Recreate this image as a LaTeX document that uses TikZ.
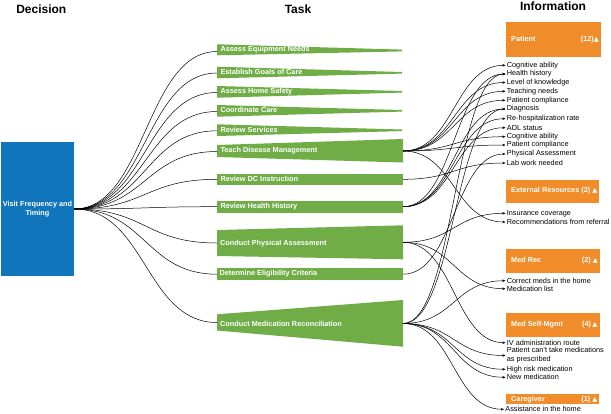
\documentclass[tikz,border=0pt]{standalone}
\usepackage{fontspec}
\setmainfont{Liberation Sans}
\newfontfamily\trifont{DejaVu Sans}
\usetikzlibrary{arrows.meta}
\definecolor{decblue}{HTML}{1075BA}
\definecolor{taskgreen}{HTML}{70AD47}
\definecolor{infoorange}{HTML}{F08C2A}
\tikzset{
  hdr/.style={font=\fontsize{12}{14}\selectfont\bfseries, inner sep=0},
  tasktxt/.style={font=\fontsize{7.3}{8.8}\selectfont\bfseries, text=white, anchor=west, inner sep=0},
  info/.style={font=\fontsize{7.3}{8.8}\selectfont, anchor=west, inner xsep=1.2pt, inner ysep=0, align=left},
  boxtxt/.style={font=\fontsize{7.3}{8.8}\selectfont\bfseries, text=white, inner sep=0},
  link/.style={line width=0.5pt, black},
  arr/.style={link, -{Stealth[length=3.2pt,width=2.6pt]}},
}
\newcommand{\tri}{{\trifont\fontsize{6.5}{8}\selectfont ▲}}
\begin{document}
\begin{tikzpicture}[x=1pt,y=-1pt]
\useasboundingbox (0,0) rectangle (611,413);

% headers
\node[hdr] (hdec) at (41.3,9) {Decision};
\node[hdr] (htask) at (298,9) {Task};
\node[hdr] (hinfo) at (553,6.5) {Information};

% decision
\node[fill=decblue, minimum width=73pt, minimum height=134.3pt, inner sep=0,
      text=white, font=\fontsize{7.3}{9.6}\selectfont\bfseries, align=center] (dec) at (37.5,209) {Visit Frequency and\\Timing};

% task shapes
\fill[taskgreen] (217,44.3) -- (402,49.6) -- (402,51.4) -- (217,55.3) -- cycle;
\fill[taskgreen] (217,66.7) -- (402,72) -- (402,73.6) -- (217,78.3) -- cycle;
\fill[taskgreen] (217,86) -- (402,91) -- (402,92.6) -- (217,97.7) -- cycle;
\fill[taskgreen] (217,105) -- (402,110) -- (402,111.6) -- (217,116.7) -- cycle;
\fill[taskgreen] (217,124.3) -- (402,129.5) -- (402,131.1) -- (217,136) -- cycle;
\fill[taskgreen] (217,145) -- (403,139) -- (403,162.5) -- (217,157) -- cycle;
\fill[taskgreen] (217,173.7) rectangle (403,185);
\fill[taskgreen] (217,200.7) rectangle (403,212.7);
\fill[taskgreen] (217,230) -- (403,225.3) -- (403,259.3) -- (217,256) -- cycle;
\fill[taskgreen] (217,268.3) rectangle (403,280);
\fill[taskgreen] (217,314.3) -- (403,300) -- (403,346.7) -- (217,330.5) -- cycle;

\node[tasktxt] (aen) at (220.3,50) {Assess Equipment Needs};
\node[tasktxt] (egc) at (220.3,72.3) {Establish Goals of Care};
\node[tasktxt] (ahs) at (220.3,91.3) {Assess Home Safety};
\node[tasktxt] (cc)  at (220.3,110.3) {Coordinate Care};
\node[tasktxt] (rs)  at (220.3,129.7) {Review Services};
\node[tasktxt] (tdm) at (220.3,150.7) {Teach Disease Management};
\node[tasktxt] (rdc) at (220.3,179.3) {Review DC Instruction};
\node[tasktxt] (rhh) at (220.3,206.7) {Review Health History};
\node[tasktxt] (cpa) at (220,243.7) {Conduct Physical Assessment};
\node[tasktxt] (eli) at (219.3,274) {Determine Eligibility Criteria};
\node[tasktxt] (cmr) at (220,324.3) {Conduct Medication Reconciliation};

% connection points
\coordinate (aenin) at (217,51.5);
\coordinate (egcin) at (217,73);
\coordinate (ahsin) at (217,92.5);
\coordinate (ccin)  at (217,111.5);
\coordinate (rsin)  at (217,130.8);
\coordinate (tdmin) at (217,151.5);
\coordinate (rdcin) at (217,179.3);
\coordinate (rhhin) at (217,206.7);
\coordinate (cpain) at (217,243);
\coordinate (eliin) at (217,274.2);
\coordinate (cmrin) at (217,322.5);

\coordinate (tdmout) at (403,151);
\coordinate (rdcout) at (403,179.3);
\coordinate (rhhout) at (403,206.7);
\coordinate (cpaout) at (403,242.3);
\coordinate (eliout) at (403,274.2);
\coordinate (cmrout) at (403,323.5);

\foreach \t in {aenin,egcin,ahsin,ccin,rsin,tdmin,rdcin,rhhin,cpain,eliin,cmrin}
  \draw[link] (dec.east) .. controls +(71.5,0) and +(-71.5,0) .. (\t);

% information boxes
\fill[infoorange] (506,22) rectangle (600.7,57.3);
\node[boxtxt, anchor=west] (patl) at (511,39.3) {Patient};
\node[boxtxt, anchor=east] (patn) at (599,39.3) {(12)\tri};

\fill[infoorange] (506,180) rectangle (599.3,202.7);
\node[boxtxt, anchor=west] (extl) at (511,191) {External Resources (2)};
\node[boxtxt, anchor=east] (extn) at (597.5,191) {\tri};

\fill[infoorange] (506,249.3) rectangle (600,273.3);
\node[boxtxt, anchor=west] (mrl) at (511,260.3) {Med Rec};
\node[boxtxt, anchor=east] (mrn) at (598,260.3) {(2) \tri};

\fill[infoorange] (506,312.7) rectangle (600,336.7);
\node[boxtxt, anchor=west] (msl) at (511,324.7) {Med Self-Mgmt};
\node[boxtxt, anchor=east] (msn) at (597.5,324.7) {(4)\,\tri};

\fill[infoorange] (506,394) rectangle (599,404.3);
\node[boxtxt, anchor=west] (cgl) at (511,399.2) {Caregiver};
\node[boxtxt, anchor=east] (cgn) at (597.5,399.2) {(1) \tri};

% information items
\node[info] (ca1) at (505.5,65.3) {Cognitive ability};
\node[info] (hh)  at (505.5,74) {Health history};
\node[info] (lk)  at (505.5,82.5) {Level of knowledge};
\node[info] (tn)  at (505.5,91.3) {Teaching needs};
\node[info] (pc1) at (505.5,100.3) {Patient compliance};
\node[info] (dx)  at (505.5,109) {Diagnosis};
\node[info] (rh)  at (505.5,118.7) {Re-hospitalization rate};
\node[info] (adl) at (505.5,127.7) {ADL status};
\node[info] (ca2) at (505.5,136.7) {Cognitive ability};
\node[info] (pc2) at (505.5,145) {Patient compliance};
\node[info] (pa)  at (505.5,154) {Physical Assessment};
\node[info] (lw)  at (505.5,163) {Lab work needed};
\node[info] (ic)  at (505.5,213.3) {Insurance coverage};
\node[info] (rr)  at (505.5,222) {Recommendations from referral};
\node[info] (cm)  at (505.5,280.7) {Correct meds in the home};
\node[info] (ml)  at (505.5,288.7) {Medication list};
\node[info] (iv)  at (505.5,342.7) {IV administration route};
\node[info, font=\fontsize{7.3}{9}\selectfont] (pct) at (505.5,355.5) {Patient can't take medications\\as prescribed};
\node[info] (hr)  at (505.5,369.3) {High risk medication};
\node[info] (nm)  at (505.5,377.3) {New medication};
\node[info] (ah)  at (504,409.3) {Assistance in the home};

% task -> information links
\foreach \s/\d in {tdmout/ca1, tdmout/lk, tdmout/tn, tdmout/pc1, tdmout/ca2, tdmout/pc2, tdmout/rr,
                   rhhout/hh, rhhout/dx, rhhout/rh, rhhout/adl,
                   rdcout/lw,
                   cpaout/ic, cpaout/ml, cpaout/iv,
                   eliout/pa,
                   cmrout/hh, cmrout/dx, cmrout/cm, cmrout/pct, cmrout/hr, cmrout/nm, cmrout/ah}
  \draw[arr] (\s) .. controls +(51,0) and +(-51,0) .. (\d.west);

\end{tikzpicture}
\end{document}
